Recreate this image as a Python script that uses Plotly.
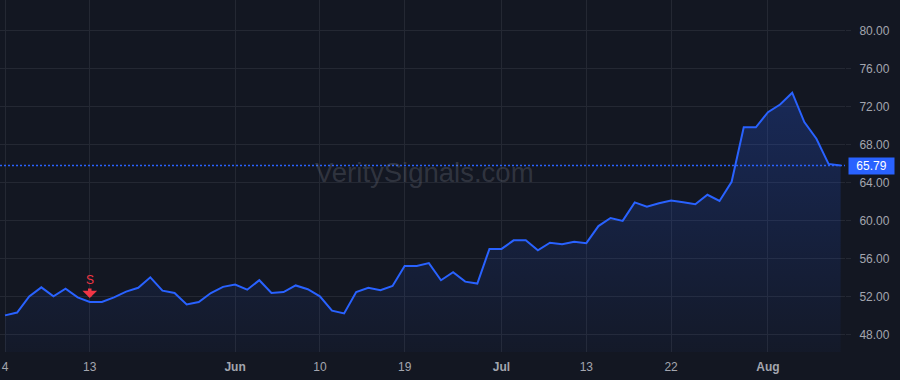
import pandas as pd
import plotly.graph_objects as go

# ---- data ----
holidays = ["2020-05-25", "2020-07-03"]
dates = [d.strftime("%Y-%m-%d") for d in pd.bdate_range("2020-05-04", "2020-08-11")
         if d.strftime("%Y-%m-%d") not in holidays]

prices = [50.0, 50.3, 52.0, 52.95, 52.0, 52.8, 51.9, 51.4, 51.4, 51.9,
          52.5, 52.9, 54.0, 52.6, 52.35, 51.15, 51.4, 52.35, 53.0, 53.25,
          52.7, 53.7, 52.35, 52.45, 53.15, 52.75, 52.0, 50.5, 50.2, 52.45,
          52.9, 52.65, 53.1, 55.2, 55.2, 55.5, 53.7, 54.55, 53.55, 53.35,
          57.0, 57.0, 57.9, 57.9, 56.85, 57.65, 57.5, 57.75, 57.6, 59.4,
          60.25, 59.95, 61.9, 61.45, 61.8, 62.1, 61.9, 61.7, 62.7, 62.05,
          64.06, 69.8, 69.8, 71.4, 72.2, 73.45, 70.35, 68.6, 65.95, 65.79]

tick_dates = ["2020-05-04", "2020-05-13", "2020-06-01", "2020-06-10", "2020-06-19",
              "2020-07-01", "2020-07-13", "2020-07-22", "2020-08-03"]
tick_labels = ["4", "13", "<b>Jun</b>", "10", "19", "<b>Jul</b>", "13", "22", "<b>Aug</b>"]

y_ticks = [48, 52, 56, 60, 64, 68, 72, 76, 80]

signal_date = "2020-05-13"
signal_label = "S"
last_value = prices[-1]
watermark = "VeritySignals.com"

# ---- style ----
BG = "#131722"
GRID = "#242833"
BLUE = "#2962FF"
RED = "#F23645"
TXT = "#A3A6AF"
FONT = "Liberation Sans, Arial, sans-serif"

fig = go.Figure()
fig.add_trace(go.Scatter(
    x=dates, y=prices, mode="lines",
    line=dict(color=BLUE, width=2),
    fill="tozeroy",
    fillgradient=dict(type="vertical", start=46, stop=76,
                      colorscale=[[0, "rgba(41,98,255,0.03)"], [1, "rgba(41,98,255,0.26)"]]),
    hoverinfo="skip", showlegend=False,
))

sig_val = prices[dates.index(signal_date)]
fig.add_annotation(x=signal_date, y=sig_val, text=signal_label, showarrow=True,
                   ax=0, ay=-22, arrowhead=1, arrowsize=0.7, arrowwidth=3.5,
                   arrowcolor=RED, standoff=4,
                   font=dict(color=RED, size=12, family=FONT))

fig.add_shape(type="line", xref="paper", x0=0, x1=1, yref="y", y0=last_value, y1=last_value,
              line=dict(color=BLUE, width=1.5, dash="2px,2px"))

fig.add_annotation(xref="paper", x=1, y=last_value, yref="y", text=f"{last_value:.2f}",
                   showarrow=False, xanchor="left", xshift=3, yshift=-1, bgcolor=BLUE,
                   width=43, height=14, borderpad=1,
                   font=dict(color="#FFFFFF", size=12, family=FONT))

fig.add_annotation(xref="paper", yref="paper", x=0.502, y=0.51, text=watermark,
                   showarrow=False, font=dict(color="rgba(120,123,134,0.30)", size=27.5, family=FONT))

fig.update_layout(
    width=900, height=380,
    margin=dict(l=0, r=55, t=0, b=28),
    paper_bgcolor=BG, plot_bgcolor=BG,
    font=dict(family=FONT, size=12, color=TXT),
    xaxis=dict(type="category", range=[-0.413, 69.36],
               tickmode="array", tickvals=tick_dates, ticktext=tick_labels,
               showgrid=True, gridcolor=GRID, gridwidth=1,
               zeroline=False, showline=False, ticks="", ticklabelstandoff=6),
    yaxis=dict(side="right", range=[46.14, 83.21], tickmode="array", tickvals=y_ticks,
               tickformat=".2f", showgrid=True, gridcolor=GRID, gridwidth=1,
               zeroline=False, showline=False, ticks="outside", ticklen=5, tickcolor=GRID,
               ticklabelstandoff=6),
    hovermode=False,
)

fig.write_html("out.html", config={"displayModeBar": False})
